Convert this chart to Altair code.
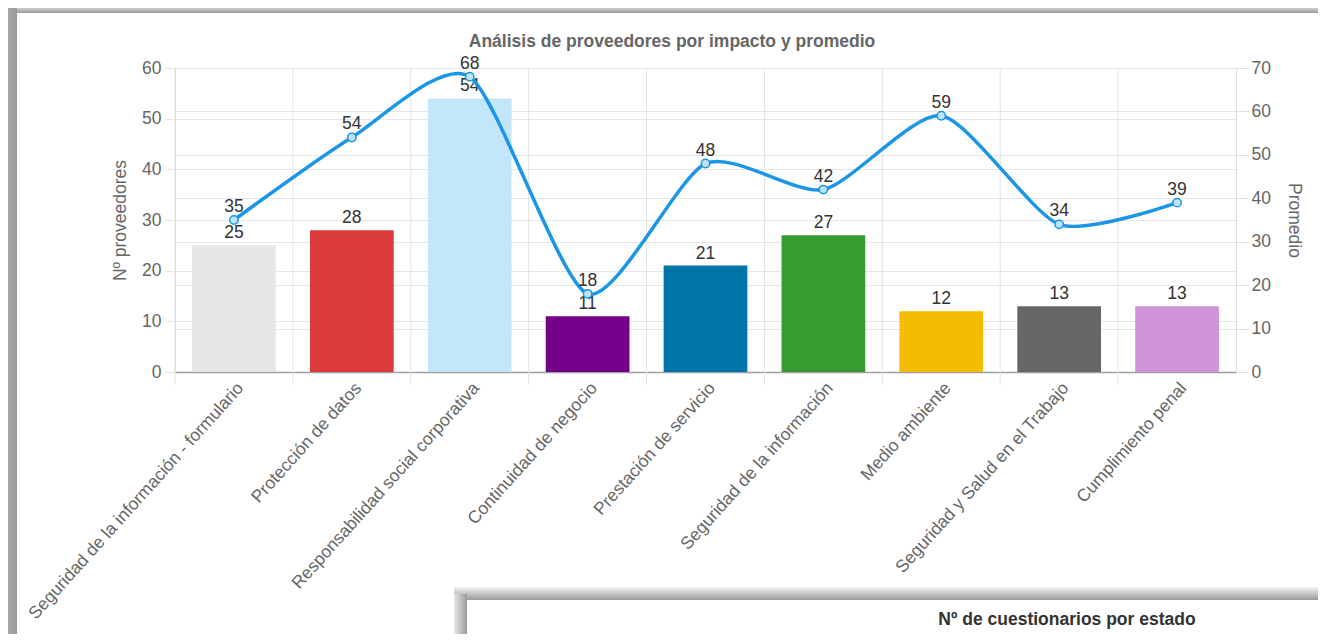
import altair as alt
import pandas as pd

categorias = [
    "Seguridad de la información - formulario",
    "Protección de datos",
    "Responsabilidad social corporativa",
    "Continuidad de negocio",
    "Prestación de servicio",
    "Seguridad de la información",
    "Medio ambiente",
    "Seguridad y Salud en el Trabajo",
    "Cumplimiento penal",
]
num_proveedores = [25, 28, 54, 11, 21, 27, 12, 13, 13]
promedio = [35, 54, 68, 18, 48, 42, 59, 34, 39]
colores = ["#e6e6e6", "#db3b3b", "#c3e6fb", "#74008a", "#0075a8",
           "#379c2f", "#f3bc00", "#676767", "#cf95d8"]

titulo = "Análisis de proveedores por impacto y promedio"
titulo_izq = "Nº proveedores"
titulo_der = "Promedio"
titulo_panel2 = "Nº de cuestionarios por estado"

df = pd.DataFrame({"categoria": categorias, "n": num_proveedores, "prom": promedio})

FONT = "Liberation Sans, Arial, sans-serif"
FS = 17.5
W, H = 1061, 304

xaxis = alt.Axis(labelAngle=-48, labelAlign="right", labelBaseline="top",
                 labelFontSize=17.5, labelColor="#666", labelFont=FONT,
                 ticks=False, grid=False, labelPadding=7,
                 domainColor="#a0a0a0", domainWidth=1.5, labelLimit=500)
xscale = alt.Scale(paddingInner=0, paddingOuter=0)


def xenc(**kw):
    return alt.X("categoria:N", sort=categorias, title=None, scale=xscale, axis=xaxis, **kw)


vgrid = alt.Chart(df).mark_rule(color="#e3e3e3", strokeWidth=1).encode(
    x=xenc(bandPosition=0),
    y=alt.value(0), y2=alt.value(H + 13),
)

yleft = alt.Y("n:Q", scale=alt.Scale(domain=[0, 60], nice=False),
              axis=alt.Axis(orient="left", values=[0, 10, 20, 30, 40, 50, 60], title=titulo_izq,
                            titleFontSize=FS, titleFont=FONT, titleColor="#666", titleFontWeight="normal",
                            titlePadding=12, labelFontSize=FS, labelFont=FONT, labelColor="#666",
                            tickSize=10, tickColor="#e6e6e6", labelPadding=4,
                            grid=True, gridColor="#e6e6e6", domain=False))

bars = alt.Chart(df).mark_bar(width=alt.RelativeBandSize(0.71)).encode(
    x=xenc(),
    y=yleft,
    color=alt.Color("categoria:N", sort=categorias,
                    scale=alt.Scale(domain=categorias, range=colores), legend=None),
)
bar_text = alt.Chart(df).mark_text(baseline="bottom", dy=-3, fontSize=FS, font=FONT, color="#333").encode(
    x=xenc(), y=yleft, text="n:Q")

left = alt.layer(vgrid, bars, bar_text)

yright = alt.Y("prom:Q", scale=alt.Scale(domain=[0, 70], nice=False),
               axis=alt.Axis(orient="right", values=[0, 10, 20, 30, 40, 50, 60, 70], title=titulo_der,
                             titleFontSize=FS, titleFont=FONT, titleColor="#666", titleFontWeight="normal",
                             titlePadding=14, labelFontSize=FS, labelFont=FONT, labelColor="#666",
                             tickSize=13, tickColor="#e0e0e0", labelPadding=2,
                             grid=True, gridColor="#e6e6e6", domain=False))

line = alt.Chart(df).mark_line(interpolate="cardinal", tension=0.3, color="#1b96e6", strokeWidth=3.5).encode(
    x=xenc(), y=yright)
points = alt.Chart(df).mark_point(shape="circle", filled=True, fill="#bfe3fa", stroke="#1b96e6",
                                  strokeWidth=1.5, size=70, opacity=1).encode(x=xenc(), y=yright)
line_text = alt.Chart(df).mark_text(baseline="bottom", dy=-4, fontSize=FS, font=FONT, color="#333").encode(
    x=xenc(), y=yright, text="prom:Q")

right = alt.layer(line, points, line_text)

# decorative frame (screenshot panel shadows) and titles
one = alt.Data(values=[{}])
g_vert = alt.LinearGradient(gradient="linear", x1=0, x2=0, y1=0, y2=1,
                            stops=[alt.GradientStop(color="#cfcfcf", offset=0),
                                   alt.GradientStop(color="#9a9a9a", offset=1)])
g_vert2 = alt.LinearGradient(gradient="linear", x1=0, x2=0, y1=0, y2=1,
                             stops=[alt.GradientStop(color="#f4f4f4", offset=0),
                                    alt.GradientStop(color="#9a9a9a", offset=1)])
g_horz = alt.LinearGradient(gradient="linear", x1=0, x2=1, y1=0, y2=0,
                            stops=[alt.GradientStop(color="#a8a8a8", offset=0),
                                   alt.GradientStop(color="#999999", offset=1)])
g_horz2 = alt.LinearGradient(gradient="linear", x1=0, x2=1, y1=0, y2=0,
                             stops=[alt.GradientStop(color="#e8e8e8", offset=0),
                                    alt.GradientStop(color="#9a9a9a", offset=1)])

top_strip = alt.Chart(one).mark_rect(fill=g_vert).encode(
    x=alt.value(-167), x2=alt.value(1144), y=alt.value(-60), y2=alt.value(-55))
left_strip = alt.Chart(one).mark_rect(fill=g_horz).encode(
    x=alt.value(-167), x2=alt.value(-158), y=alt.value(-60), y2=alt.value(610))
p2_top = alt.Chart(one).mark_rect(fill=g_vert2).encode(
    x=alt.value(279), x2=alt.value(1144), y=alt.value(519), y2=alt.value(532))
p2_left = alt.Chart(one).mark_rect(fill=g_horz2).encode(
    x=alt.value(279), x2=alt.value(292), y=alt.value(526), y2=alt.value(610))
p2_white = alt.Chart(one).mark_rect(fill="white").encode(
    x=alt.value(292), x2=alt.value(1144), y=alt.value(532), y2=alt.value(610))
p2_title = alt.Chart(one).mark_text(fontSize=FS, font=FONT, fontWeight="bold", color="#333",
                                    baseline="middle", align="center").encode(
    x=alt.value(892), y=alt.value(552), text=alt.value(titulo_panel2))
main_title = alt.Chart(one).mark_text(fontSize=FS, font=FONT, fontWeight="bold", color="#666",
                                      baseline="middle", align="center").encode(
    x=alt.value(497), y=alt.value(-26), text=alt.value(titulo))

deco = alt.layer(top_strip, left_strip, p2_top, p2_left, p2_white, p2_title, main_title)

chart = alt.layer(left, right, deco).resolve_scale(y="independent").properties(
    width=W, height=H,
    padding={"left": 167, "top": 60, "right": 82, "bottom": 262},
    autosize=alt.AutoSizeParams(type="none"),
).configure_view(stroke="#e3e3e3").configure(background="white")

chart.save("out.html", embed_options={"renderer": "svg", "actions": False})
